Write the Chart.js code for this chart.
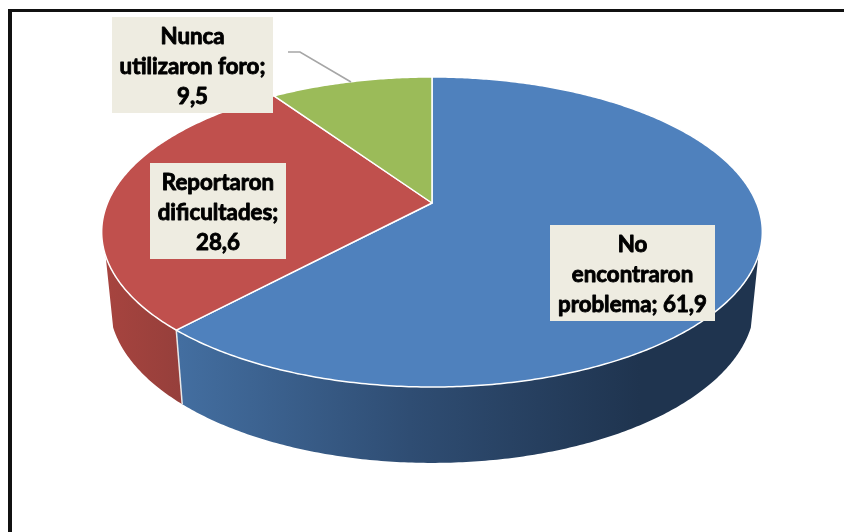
<!DOCTYPE html>
<html>
<head>
<meta charset="utf-8">
<title>Pastel 3D</title>
<script src="https://cdn.jsdelivr.net/npm/chart.js@4/dist/chart.umd.min.js"></script>
<style>
  html, body { margin: 0; padding: 0; background: #fff; }
  canvas { display: block; }
</style>
</head>
<body>
<canvas id="pastelChart" width="844" height="532"></canvas>
<script>
// datos
const categorias = ['No encontraron problema', 'Reportaron dificultades', 'Nunca utilizaron foro'];
const valores = [61.9, 28.6, 9.5];
const etiquetas = [
    ['No', 'encontraron', 'problema; 61,9'],
    ['Reportaron', 'dificultades;', '28,6'],
    ['Nunca', 'utilizaron foro;', '9,5']
];
const coloresCara = ['#4F81BD', '#C0504D', '#9BBB59'];

// cajas de las etiquetas: x, y, ancho, alto
const cajas = [
    [550, 225, 165, 96],
    [150, 163, 136, 96],
    [112, 17, 161, 96]
];

// perspectiva: el disco es un circulo visto en proyeccion
const k = -0.187;
const caraSup = { cx: 432, cy: 203, rx: 324.5, ry: 149.6 };
const caraInf = { cx: 432, cy: 273, rx: 317, ry: 154.4 };
const limiteLateral = 0.332; // seno del angulo donde empieza la pared visible

function proyectar(p, a) {
    const u = Math.cos(a), v = Math.sin(a), d = 1 + k * v;
    return [p.cx + p.rx * u / d, p.cy + p.ry * v / d];
}

function arco(p, a0, a1) {
    const n = Math.max(2, Math.ceil(Math.abs(a1 - a0) / 0.01));
    const pts = [];
    for (let i = 0; i <= n; i++) {
        pts.push(proyectar(p, a0 + (a1 - a0) * i / n));
    }
    return pts;
}

function trazar(ctx, pts) {
    pts.forEach((q, i) => i ? ctx.lineTo(q[0], q[1]) : ctx.moveTo(q[0], q[1]));
}

function gradienteLateral(ctx, i) {
    if (i === 0) {
        const g = ctx.createLinearGradient(180, 0, 640, 0);
        g.addColorStop(0, '#436EA0');
        g.addColorStop(0.5, '#2F4D73');
        g.addColorStop(1, '#1F344F');
        return g;
    }
    const g = ctx.createLinearGradient(100, 0, 185, 0);
    g.addColorStop(0, '#A8443F');
    g.addColorStop(1, '#953F3B');
    return g;
}

const pastel3d = {
    id: 'pastel3d',
    beforeDraw(chart) {
        const ctx = chart.ctx;
        ctx.save();
        ctx.fillStyle = '#fff';
        ctx.fillRect(0, 0, chart.width, chart.height);
        // marco negro, solo arriba y a la izquierda
        ctx.fillStyle = '#111';
        ctx.fillRect(8, 9, chart.width - 8, 3);
        ctx.fillRect(8, 9, 4, chart.height - 9);
        ctx.restore();
    },
    beforeDatasetDraw(chart, args) {
        const ctx = chart.ctx;
        const arcos = chart.getDatasetMeta(args.index).data;
        const aDer = Math.asin(limiteLateral);
        const aIzq = Math.PI - aDer;
        ctx.save();

        // pared lateral, solo la parte de delante
        arcos.forEach((el, i) => {
            const a0 = Math.max(el.startAngle, aDer);
            const a1 = Math.min(el.endAngle, aIzq);
            if (a1 <= a0) return;
            ctx.beginPath();
            trazar(ctx, arco(caraSup, a0, a1).concat(arco(caraInf, a1, a0)));
            ctx.closePath();
            ctx.fillStyle = gradienteLateral(ctx, i);
            ctx.fill();
        });

        // arista blanca entre segmentos en la pared
        arcos.forEach(el => {
            if (el.endAngle > aDer && el.endAngle < aIzq) {
                const p = proyectar(caraSup, el.endAngle), q = proyectar(caraInf, el.endAngle);
                ctx.beginPath();
                ctx.moveTo(p[0], p[1]);
                ctx.lineTo(q[0], q[1]);
                ctx.strokeStyle = '#e8e8e8';
                ctx.lineWidth = 1.5;
                ctx.stroke();
            }
        });

        // cara superior
        arcos.forEach((el, i) => {
            ctx.beginPath();
            trazar(ctx, [[caraSup.cx, caraSup.cy]].concat(arco(caraSup, el.startAngle, el.endAngle)));
            ctx.closePath();
            ctx.fillStyle = coloresCara[i];
            ctx.fill();
            ctx.strokeStyle = '#fff';
            ctx.lineWidth = 1.5;
            ctx.lineJoin = 'round';
            ctx.stroke();
        });
        ctx.restore();
        return false;
    },
    afterDatasetsDraw(chart) {
        const ctx = chart.ctx;
        ctx.save();

        // linea guia de la etiqueta pequena
        ctx.beginPath();
        ctx.moveTo(288, 52);
        ctx.lineTo(300, 52);
        ctx.lineTo(351, 82);
        ctx.strokeStyle = '#A6A6A6';
        ctx.lineWidth = 1.6;
        ctx.stroke();

        ctx.textAlign = 'center';
        ctx.textBaseline = 'middle';
        ctx.font = 'bold 22.3px Lato';
        ctx.lineJoin = 'round';
        etiquetas.forEach((lineas, i) => {
            const [x, y, w, h] = cajas[i];
            ctx.fillStyle = '#EEECE1';
            ctx.fillRect(x, y, w, h);
            lineas.forEach((t, j) => {
                const ty = y + 20 + j * 30;
                ctx.strokeStyle = '#000';
                ctx.lineWidth = 0.9;
                ctx.fillStyle = '#000';
                ctx.strokeText(t, x + w / 2, ty);
                ctx.fillText(t, x + w / 2, ty);
            });
        });
        ctx.restore();
    }
};

const ctx = document.getElementById('pastelChart').getContext('2d');
new Chart(ctx, {
    type: 'pie',
    data: {
        labels: categorias,
        datasets: [{
            data: valores,
            backgroundColor: coloresCara
        }]
    },
    options: {
        responsive: false,
        animation: false,
        events: [],
        plugins: {
            legend: { display: false },
            tooltip: { enabled: false }
        }
    },
    plugins: [pastel3d]
});
</script>
</body>
</html>
